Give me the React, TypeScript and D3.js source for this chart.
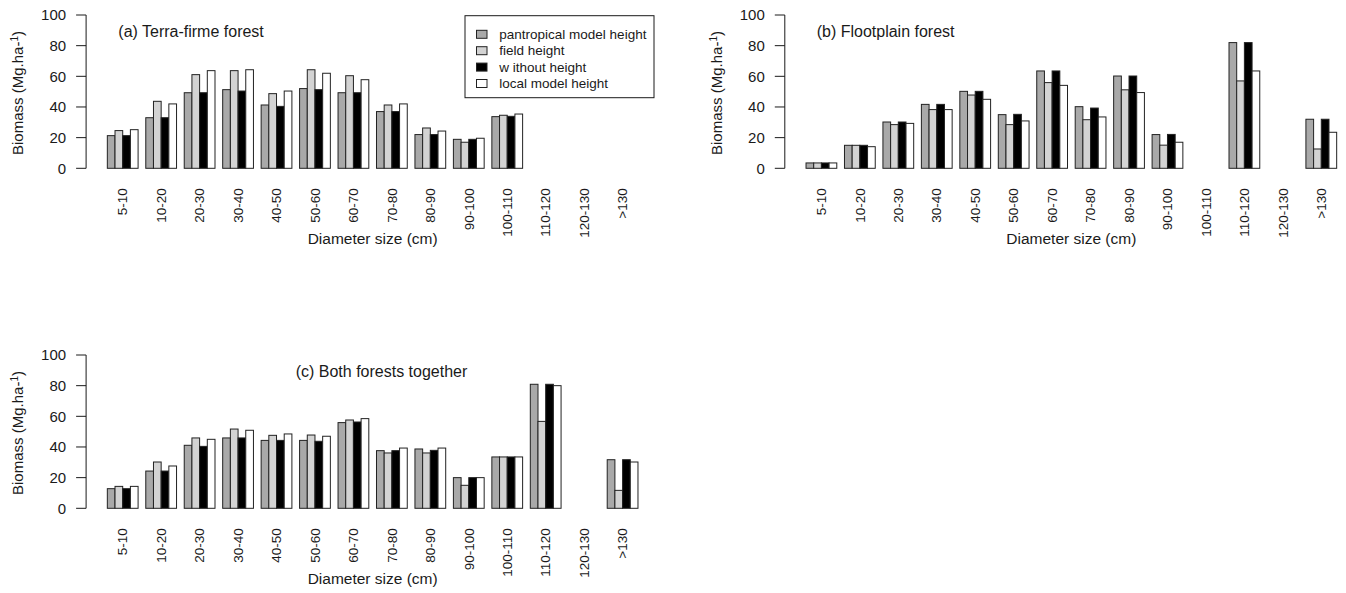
import React from "react";
import * as d3 from "d3";

// diameter classes
const categories = [
  "5-10", "10-20", "20-30", "30-40", "40-50", "50-60", "60-70",
  "70-80", "80-90", "90-100", "100-110", "110-120", "120-130", ">130",
];

const seriesNames = [
  "pantropical model height",
  "field height",
  "w ithout height",
  "local model height",
];
const seriesColors = ["#a9a9a9", "#d3d3d3", "#000000", "#ffffff"];

const yTicks = [0, 20, 40, 60, 80, 100];

// (a) terra-firme
const terraPantropical = [21.3, 33, 49.3, 51.3, 41.3, 52, 49.3, 37, 22, 18.9, 33.7, null, null, null];
const terraField = [24.6, 43.7, 61.1, 63.7, 48.7, 64.3, 60.4, 41.3, 26.3, 17, 34.6, null, null, null];
const terraWithout = [21.3, 33, 49.3, 50.4, 40.4, 51.3, 49.3, 37, 22, 18.9, 33.9, null, null, null];
const terraLocal = [25.2, 42, 63.7, 64.3, 50.4, 62, 57.8, 42, 24.3, 19.6, 35.4, null, null, null];

// (b) floodplain
const floodPantropical = [3.5, 15, 30.2, 41.7, 50.2, 35, 63.5, 40.2, 60.2, 22, null, 82, null, 32];
const floodField = [3.5, 15, 28.5, 38.3, 47.8, 28.5, 55.9, 31.7, 51.2, 15.1, null, 57, null, 12.6];
const floodWithout = [3.5, 15, 30.2, 41.7, 50.2, 35.2, 63.5, 39.3, 60.2, 22.1, null, 82, null, 32];
const floodLocal = [3.5, 14.1, 29.3, 38.3, 45, 30.9, 54.1, 33.5, 49.4, 17, null, 63.5, null, 23.5];

// (c) both
const bothPantropical = [12.8, 24.3, 41.1, 45.9, 44.3, 44.3, 55.9, 37.6, 38.7, 20, 33.5, 80.9, null, 31.7];
const bothField = [14.3, 30.2, 45.9, 51.7, 47.6, 47.8, 57.6, 36.1, 36.1, 15, 33.5, 56.7, null, 11.7];
const bothWithout = [12.8, 24.3, 40.4, 45.9, 44.3, 43.7, 56.3, 37.6, 37.8, 20, 33.5, 80.9, null, 31.7];
const bothLocal = [14.3, 27.6, 45, 50.9, 48.5, 47, 58.5, 39.3, 39.3, 20, 33.5, 80, null, 30.2];

const FONT = "'Liberation Sans', Arial, Helvetica, sans-serif";
const INK = "#1a1a1a";

type Series = (number | null)[];

function Panel({ left, top, title, titleX, series }: {
  left: number; top: number; title: string; titleX: number; series: Series[];
}) {
  // barplot units: bars width 1, one unit gap before each group
  const unitMax = categories.length * 5;
  const pad = (unitMax - 1) * 0.04;
  const x = d3.scaleLinear().domain([1 - pad, unitMax + pad]).range([left, left + 573.1]);
  const y = d3.scaleLinear().domain([0, 100]).range([top + 153.3, top]);
  const w = x(2) - x(1);
  const axisX = x.range()[0];
  const labelTop = y(0) + 20;

  return (
    <g>
      <text x={titleX} y={top + 21.5} fontSize={16} fill={INK}>{title}</text>
      {series.map((vals, s) =>
        vals.map((v, i) =>
          v == null ? null : (
            <rect key={s + "-" + i}
              x={x(1 + i * 5 + s)} y={y(v)} width={w} height={y(0) - y(v)}
              fill={seriesColors[s]} stroke="#222" strokeWidth={1} />
          )
        )
      )}
      <line x1={axisX} x2={axisX} y1={y(0)} y2={y(100)} stroke={INK} />
      {yTicks.map((t) => (
        <g key={t}>
          <line x1={axisX - 10} x2={axisX} y1={y(t)} y2={y(t)} stroke={INK} />
          <text x={axisX - 20} y={y(t)} dy="0.35em" textAnchor="end" fontSize={15} fill={INK}>{t}</text>
        </g>
      ))}
      {categories.map((c, i) => {
        const cx = x(3 + i * 5);
        return (
          <text key={c} transform={`translate(${cx},${labelTop}) rotate(-90)`}
            textAnchor="end" dy="0.35em" fontSize={13.5} fill={INK}>{c}</text>
        );
      })}
      <text x={(x.range()[0] + x.range()[1]) / 2} y={y(0) + 76} textAnchor="middle" fontSize={15.5} fill={INK}>
        Diameter size (cm)
      </text>
      <text transform={`translate(${axisX - 63},${top + 78}) rotate(-90)`} textAnchor="middle" fontSize={15} fill={INK}>
        Biomass (Mg.ha<tspan>-</tspan><tspan dy="-5" fontSize={10}>1</tspan><tspan dy="5">)</tspan>
      </text>
    </g>
  );
}

function Legend({ x, y }: { x: number; y: number }) {
  const rowH = 16.4;
  return (
    <g>
      <rect x={x} y={y} width={189} height={82} fill="#fff" stroke={INK} strokeWidth={1} />
      {seriesNames.map((n, i) => {
        const cy = y + 18.6 + i * rowH;
        return (
          <g key={n}>
            <rect x={x + 11.5} y={cy - 4} width={10.5} height={8} fill={seriesColors[i]} stroke="#222" />
            <text x={x + 34.3} y={cy} dy="0.35em" fontSize={13.5} fill={INK}>{n}</text>
          </g>
        );
      })}
    </g>
  );
}

export default function App() {
  return (
    <div style={{ position: "absolute", left: 0, top: 0 }}>
      <svg width={1346} height={593} style={{ display: "block", fontFamily: FONT }}>
        <rect width={1346} height={593} fill="#fff" />
        <Panel left={86.1} top={15} title="(a) Terra-firme forest" titleX={118.3}
          series={[terraPantropical, terraField, terraWithout, terraLocal]} />
        <Panel left={784.8} top={15} title="(b) Flootplain forest" titleX={816.7}
          series={[floodPantropical, floodField, floodWithout, floodLocal]} />
        <Panel left={86.1} top={355} title="(c) Both forests together" titleX={295.7}
          series={[bothPantropical, bothField, bothWithout, bothLocal]} />
        <Legend x={465} y={15.7} />
      </svg>
    </div>
  );
}
